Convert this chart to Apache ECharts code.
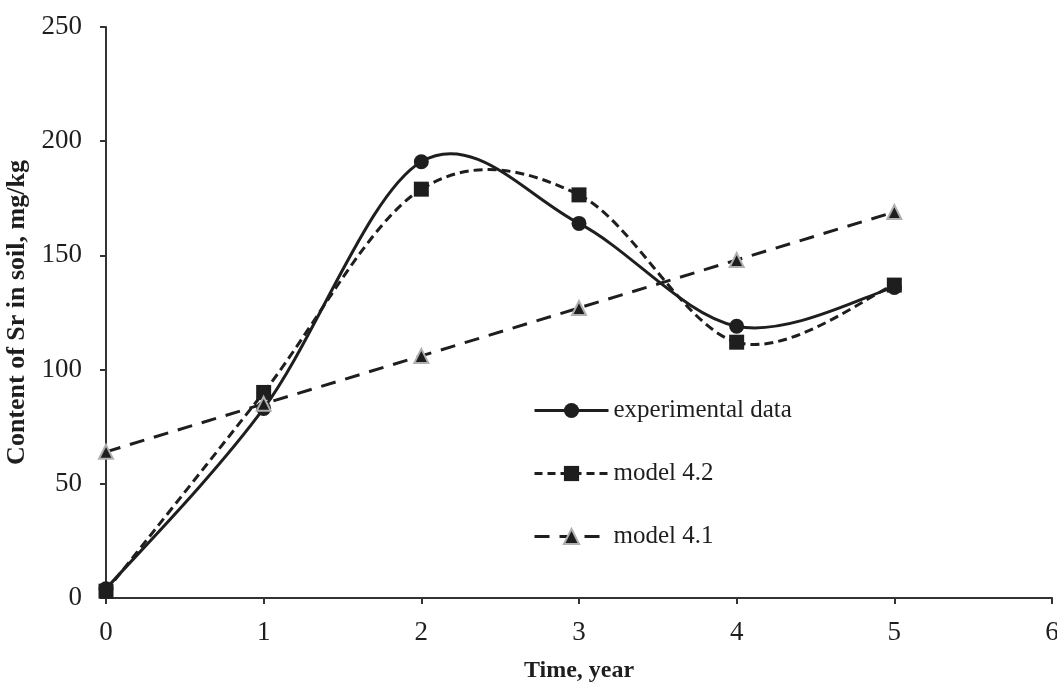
<!DOCTYPE html>
<html><head><meta charset="utf-8">
<script src="https://cdn.jsdelivr.net/npm/echarts@6/dist/echarts.min.js"></script>
<style>html,body{margin:0;padding:0;background:#fff}#c{width:1057px;height:682px}</style>
</head><body><div id="c"></div>
<script>
const years = [0, 1, 2, 3, 4, 5];
const experimental = [4, 83, 191, 164, 119, 136];
const model42 = [3, 90, 179, 176.5, 112, 137];
const model41 = [64, 85, 106, 127, 148, 169];
const seriesNames = ['experimental data', 'model 4.2', 'model 4.1'];

const INK = '#1e1e1e';
const font = '"Liberation Serif", "Times New Roman", serif';
const pair = arr => years.map((x, i) => [x, arr[i]]);

// Smoothed curve drawn through the data points (Catmull-Rom style bezier), positioned via the axes.
function curveSeries(id, ys, dash) {
  return {
    type: 'custom', name: id, data: pair(ys), encode: {x: 0, y: 1}, z: 2, silent: true,
    renderItem(params, api) {
      const i = params.dataIndex, n = ys.length;
      if (i >= n - 1) return null;
      const P = k => { k = Math.max(0, Math.min(n - 1, k)); return api.coord([years[k], ys[k]]); };
      const p0 = P(i - 1), p1 = P(i), p2 = P(i + 1), p3 = P(i + 2);
      return {
        type: 'bezierCurve',
        shape: {
          x1: p1[0], y1: p1[1], x2: p2[0], y2: p2[1],
          cpx1: p1[0] + (p2[0] - p0[0]) / 6, cpy1: p1[1] + (p2[1] - p0[1]) / 6,
          cpx2: p2[0] - (p3[0] - p1[0]) / 6, cpy2: p2[1] - (p3[1] - p1[1]) / 6
        },
        style: {stroke: INK, lineWidth: 3, lineDash: dash, fill: 'none'}
      };
    }
  };
}

const chart = echarts.init(document.getElementById('c'), null, {renderer: 'canvas'});
chart.setOption({
  animation: false,
  backgroundColor: '#fff',
  grid: {left: 106, right: 5, top: 27, bottom: 84, containLabel: false, outerBoundsMode: 'none'},
  xAxis: {
    type: 'value', min: 0, max: 6, interval: 1,
    name: 'Time, year', nameLocation: 'middle', nameGap: 61,
    nameTextStyle: {fontFamily: font, fontWeight: 'bold', fontSize: 24, color: INK},
    axisLine: {lineStyle: {color: '#333', width: 2}},
    axisTick: {show: true, length: 6, lineStyle: {color: '#333', width: 2}},
    axisLabel: {fontFamily: font, fontSize: 27, color: INK, margin: 21},
    splitLine: {show: false}
  },
  yAxis: {
    type: 'value', min: 0, max: 250, interval: 50,
    name: 'Content of Sr in soil, mg/kg', nameLocation: 'middle', nameGap: 68, nameRotate: 90,
    nameTextStyle: {fontFamily: font, fontWeight: 'bold', fontSize: 26, color: INK},
    axisLine: {show: true, lineStyle: {color: '#333', width: 2}},
    axisTick: {show: true, length: 6, lineStyle: {color: '#333', width: 2}},
    axisLabel: {fontFamily: font, fontSize: 27, color: INK, margin: 24},
    splitLine: {show: false}
  },
  legend: {
    orient: 'vertical', left: 528, top: 393, itemGap: 38,
    itemWidth: 74, itemHeight: 19,
    textStyle: {fontFamily: font, fontSize: 25, color: INK},
    data: [
      {name: seriesNames[0], lineStyle: {opacity: 1, width: 3, color: INK, type: 'solid'}},
      {name: seriesNames[1], lineStyle: {opacity: 1, width: 3, color: INK, type: [8, 5]}},
      {name: seriesNames[2], lineStyle: {opacity: 1, width: 3, color: INK, type: [15, 10]}}
    ]
  },
  series: [
    curveSeries('curve-exp', experimental, null),
    curveSeries('curve-42', model42, [9, 5]),
    {
      type: 'line', name: 'line-41', data: pair(model41), smooth: false, showSymbol: false, z: 2, silent: true,
      lineStyle: {color: INK, width: 3, type: [15, 10]}
    },
    {
      name: seriesNames[0], type: 'line', data: pair(experimental),
      symbol: 'circle', symbolSize: 15, z: 3,
      lineStyle: {color: INK, width: 3, opacity: 0},
      itemStyle: {color: INK}
    },
    {
      name: seriesNames[1], type: 'line', data: pair(model42),
      symbol: 'rect', symbolSize: 15, z: 4,
      lineStyle: {color: INK, width: 3, opacity: 0},
      itemStyle: {color: INK}
    },
    {
      name: seriesNames[2], type: 'line', data: pair(model41),
      symbol: 'triangle', symbolSize: 14, z: 5,
      lineStyle: {color: INK, width: 3, opacity: 0},
      itemStyle: {color: INK, borderColor: '#b0b0b0', borderWidth: 2}
    }
  ]
});
</script></body></html>
